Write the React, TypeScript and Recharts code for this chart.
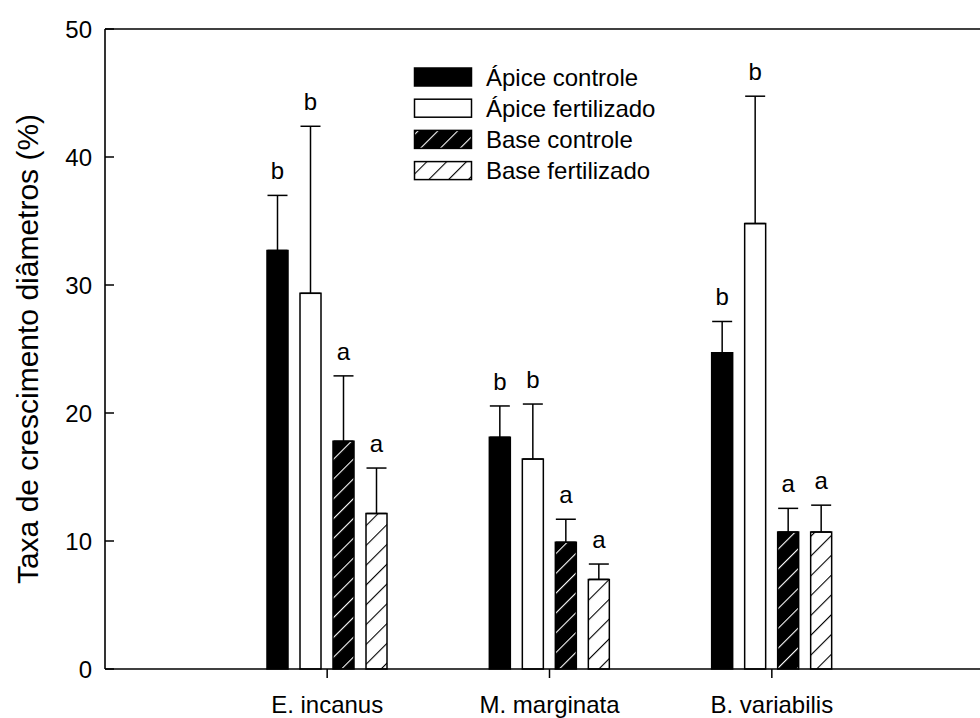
import React from 'react';
import { BarChart, Bar, XAxis, YAxis, ErrorBar, LabelList, ReferenceLine, Legend } from 'recharts';

// Species (x categories)
const categories = ['E. incanus', 'M. marginata', 'B. variabilis'];

// Growth rate means (%) and upper standard errors per treatment
const apiceControle = [32.7, 18.1, 24.7];
const apiceControleErr = [4.3, 2.45, 2.45];
const apiceFertilizado = [29.35, 16.4, 34.8];
const apiceFertilizadoErr = [13.05, 4.3, 9.95];
const baseControle = [17.8, 9.9, 10.7];
const baseControleErr = [5.1, 1.8, 1.85];
const baseFertilizado = [12.15, 7.0, 10.7];
const baseFertilizadoErr = [3.55, 1.2, 2.1];

// Significance letters above each bar
const apiceControleSig = ['b', 'b', 'b'];
const apiceFertilizadoSig = ['b', 'b', 'b'];
const baseControleSig = ['a', 'a', 'a'];
const baseFertilizadoSig = ['a', 'a', 'a'];

const yTicks = [0, 10, 20, 30, 40, 50];

const FONT = 'Liberation Sans, Arial, sans-serif';

const series = [
  { key: 'ac', name: 'Ápice controle', values: apiceControle, errs: apiceControleErr, sig: apiceControleSig, fill: '#000000' },
  { key: 'af', name: 'Ápice fertilizado', values: apiceFertilizado, errs: apiceFertilizadoErr, sig: apiceFertilizadoSig, fill: '#ffffff' },
  { key: 'bc', name: 'Base controle', values: baseControle, errs: baseControleErr, sig: baseControleSig, fill: 'url(#hatchDark)' },
  { key: 'bf', name: 'Base fertilizado', values: baseFertilizado, errs: baseFertilizadoErr, sig: baseFertilizadoSig, fill: 'url(#hatchLight)' },
];

const data = categories.map((name, i) => {
  const row: Record<string, any> = { name };
  series.forEach((s) => {
    row[s.key] = s.values[i];
    row[s.key + 'Err'] = [0, s.errs[i]];
    row[s.key + 'Sig'] = s.sig[i];
  });
  return row;
});

const HatchDefs = ({ idDark, idLight }: { idDark: string; idLight: string }) => (
  <defs>
    <pattern id={idDark} patternUnits="userSpaceOnUse" width={14} height={14} patternTransform="rotate(45)">
      <rect x={0} y={0} width={14} height={14} fill="#000" />
      <line x1={0} y1={0} x2={0} y2={14} stroke="#fff" strokeWidth={2.2} />
    </pattern>
    <pattern id={idLight} patternUnits="userSpaceOnUse" width={14} height={14} patternTransform="rotate(45)">
      <rect x={0} y={0} width={14} height={14} fill="#fff" />
      <line x1={0} y1={0} x2={0} y2={14} stroke="#000" strokeWidth={2.2} />
    </pattern>
  </defs>
);

const makeSigLabel = (values: number[], errs: number[]) => (props: any) => {
  const { x, y, width, height, value, index } = props;
  const i = typeof index === 'number' ? index : 0;
  const pxPerUnit = Number(height) / values[i];
  const capY = Number(y) - errs[i] * pxPerUnit;
  return (
    <text
      x={Number(x) + Number(width) / 2}
      y={capY - 16}
      textAnchor="middle"
      fontSize={24}
      fontFamily={FONT}
      fill="#000"
    >
      {value}
    </text>
  );
};

// Legend drawn as its own SVG, with room above the first row for the accent on "Á"
const LegendBox = () => (
  <svg width={360} height={145}>
    <HatchDefs idDark="legHatchDark" idLight="legHatchLight" />
    {series.map((s, i) => {
      const cy = 21 + i * 31.2;
      const fill = s.key === 'bc' ? 'url(#legHatchDark)' : s.key === 'bf' ? 'url(#legHatchLight)' : s.fill;
      return (
        <g key={s.key}>
          <rect x={1.5} y={cy - 9} width={57} height={18} fill={fill} stroke="#000" strokeWidth={1.5} />
          <text x={73} y={cy + 8.5} fontSize={24} fontFamily={FONT} fill="#000">
            {s.name}
          </text>
        </g>
      );
    })}
  </svg>
);

const YTitle = (props: any) => {
  const vb = props.viewBox || {};
  const cx = 27;
  const cy = (vb.y ?? 29) + (vb.height ?? 640) / 2;
  return (
    <text
      x={cx}
      y={cy}
      transform={`rotate(-90, ${cx}, ${cy})`}
      textAnchor="middle"
      dominantBaseline="central"
      fontSize={30}
      fontFamily={FONT}
      fill="#000"
    >
      Taxa de crescimento diâmetros (%)
    </text>
  );
};

export default function App() {
  return (
    <div style={{ position: 'absolute', left: 0, top: 0, width: 980, height: 718, background: '#fff' }}>
      <BarChart
        width={980}
        height={718}
        data={data}
        margin={{ top: 29, right: 0, bottom: 0, left: 0 }}
        barSize={21}
        barGap={12}
      >
        <HatchDefs idDark="hatchDark" idLight="hatchLight" />
        <XAxis
          dataKey="name"
          type="category"
          padding={{ left: 111, right: 97 }}
          height={49}
          tickSize={9}
          tickMargin={18}
          axisLine={{ stroke: '#000', strokeWidth: 1.6 }}
          tickLine={{ stroke: '#000', strokeWidth: 1.5 }}
          tick={{ fill: '#000', fontSize: 24, fontFamily: FONT }}
        />
        <YAxis
          type="number"
          domain={[0, 50]}
          ticks={yTicks}
          width={105}
          tickSize={-9}
          tickMargin={22}
          axisLine={{ stroke: '#000', strokeWidth: 1.6 }}
          tickLine={{ stroke: '#000', strokeWidth: 1.5 }}
          tick={{ fill: '#000', fontSize: 24, fontFamily: FONT }}
          label={<YTitle />}
        />
        <ReferenceLine y={50} stroke="#000" strokeWidth={1.6} ifOverflow="extendDomain" />
        <Legend
          layout="vertical"
          align="center"
          verticalAlign="middle"
          wrapperStyle={{ position: 'absolute', left: 413, top: 56, width: 360, height: 145 }}
          content={() => <LegendBox />}
        />
        {series.map((s) => (
          <Bar
            key={s.key}
            dataKey={s.key}
            name={s.name}
            fill={s.fill}
            stroke="#000"
            strokeWidth={1.5}
            isAnimationActive={false}
          >
            <ErrorBar dataKey={s.key + 'Err'} direction="y" width={10} stroke="#000" strokeWidth={1.5} />
            <LabelList dataKey={s.key + 'Sig'} content={makeSigLabel(s.values, s.errs)} />
          </Bar>
        ))}
      </BarChart>
    </div>
  );
}
